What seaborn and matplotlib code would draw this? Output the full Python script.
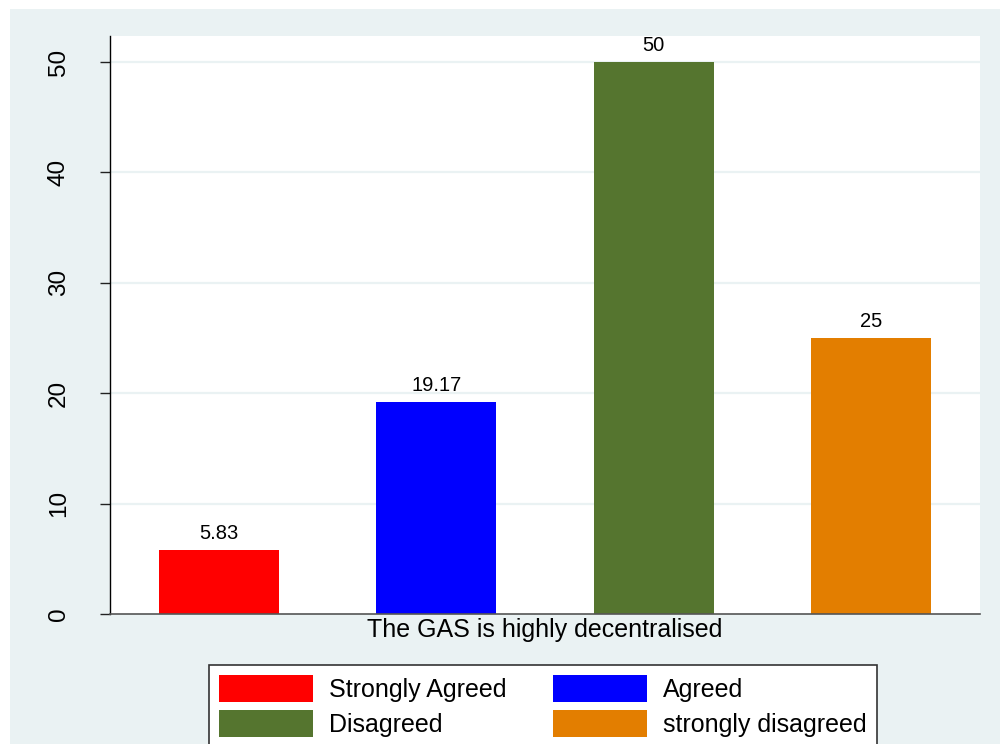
import matplotlib
matplotlib.use("Agg")
import matplotlib.pyplot as plt
import seaborn as sns
from matplotlib.patches import Rectangle

# data
categories = ['Strongly Agreed', 'Agreed', 'Disagreed', 'strongly disagreed']
values = [5.83, 19.17, 50, 25]
value_labels = ['5.83', '19.17', '50', '25']
colors = ['#FF0000', '#0000FF', '#55752F', '#E37E00']
yticks = [0, 10, 20, 30, 40, 50]

sns.set_style("white")
plt.rcParams['font.family'] = ['Liberation Sans', 'DejaVu Sans']
plt.rcParams['text.color'] = 'black'
plt.rcParams['axes.labelcolor'] = 'black'
plt.rcParams['ytick.color'] = 'black'

bg = '#EAF2F3'
fig = plt.figure(figsize=(10, 7.44), dpi=100, facecolor='white')
fig.patches.append(Rectangle((0.01, 0), 0.99, 735 / 744, transform=fig.transFigure,
                             facecolor=bg, edgecolor='none', zorder=-10))
ax = fig.add_axes([0.11, 1 - 614 / 744, 0.87, 578 / 744])
ax.set_facecolor('white')

sns.barplot(x=categories, y=values, hue=categories, palette=colors, width=0.55,
            saturation=1, legend=False, linewidth=0, ax=ax)

ax.set_xlim(-0.5, 3.5)
ax.set_ylim(0, 52.36)
ax.set_yticks(yticks)
ax.set_yticklabels([str(t) for t in yticks], rotation=90, va='center', fontsize=17.5)
ax.tick_params(axis='y', length=7, width=1, pad=22, color='#222222', labelcolor='black', left=True)
ax.set_xticks([])
ax.yaxis.grid(True, color=bg, linewidth=1.6)
ax.set_axisbelow(True)
ax.get_ygridlines()[0].set_visible(False)

for s in ['top', 'right']:
    ax.spines[s].set_visible(False)
ax.spines['left'].set_color('black')
ax.spines['left'].set_linewidth(1)
ax.spines['bottom'].set_color('#555555')
ax.spines['bottom'].set_linewidth(1.2)

ax.set_xlabel('The GAS is highly decentralised', fontsize=18, labelpad=3)
ax.set_ylabel('')

# one container per hue level, in category order
for cont, lab in zip(ax.containers, value_labels):
    ax.bar_label(cont, labels=[lab], padding=5, fontsize=14.5, color='black')

# legend fills row by row in the reference
order = [0, 2, 1, 3]
handles = [Rectangle((0, 0), 1, 1, facecolor=colors[i], edgecolor='none') for i in order]
labels = [categories[i] for i in order]
leg = fig.legend(handles, labels, ncol=2, loc='upper center',
                 bbox_to_anchor=(543 / 1000, 1 - 665 / 744), fontsize=18,
                 frameon=True, fancybox=False, framealpha=1, edgecolor='#333333',
                 handlelength=3.76, handleheight=1.3, handletextpad=0.64,
                 labelspacing=0.3, columnspacing=1.84, borderpad=0.4,
                 borderaxespad=0)
leg.get_frame().set_linewidth(1.2)

fig.savefig('out.png', dpi=100, facecolor='white')
